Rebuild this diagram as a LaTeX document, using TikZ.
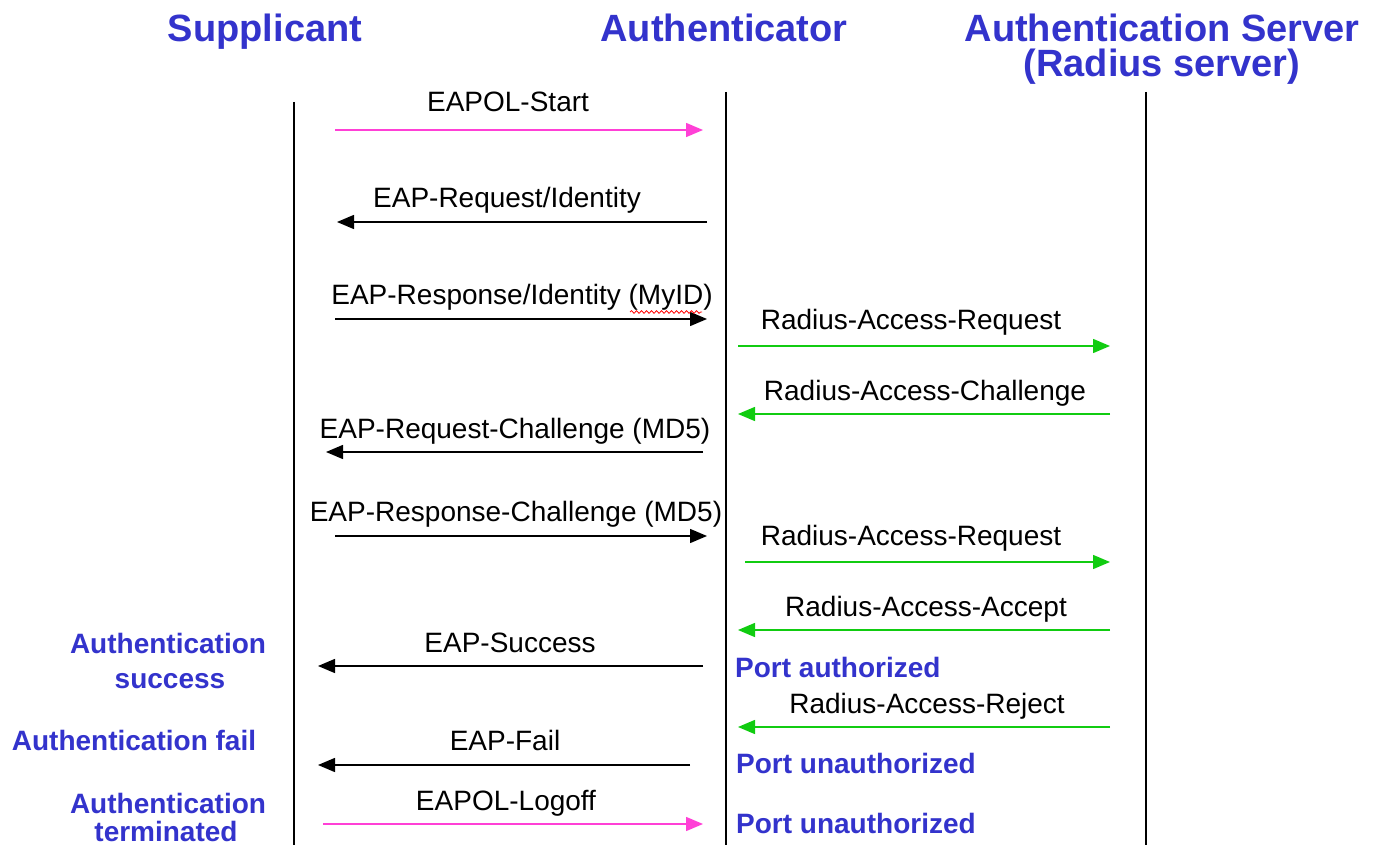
\documentclass[tikz,border=0pt]{standalone}
\usepackage{fontspec}
\setmainfont{Liberation Sans}
\usetikzlibrary{arrows.meta,decorations.pathmorphing}
\definecolor{hdrblue}{RGB}{51,51,204}
\definecolor{msgpink}{RGB}{255,64,214}
\definecolor{msggreen}{RGB}{17,204,17}
\tikzset{
  lifeline/.style={line width=1.4pt, black},
  msg/.style={line width=1.5pt, -{Triangle[length=17pt,width=14pt]}},
  blackmsg/.style={msg, black},
  pinkmsg/.style={msg, msgpink},
  greenmsg/.style={msg, msggreen},
  hdr/.style={anchor=base, text=hdrblue, font=\fontsize{38}{35}\selectfont\bfseries, inner sep=0pt},
  lbl/.style={anchor=base, font=\fontsize{28}{30}\selectfont, inner sep=0pt},
  state/.style={anchor=base, text=hdrblue, font=\fontsize{28}{30}\selectfont\bfseries, inner sep=0pt},
  statew/.style={state, anchor=base west},
}
\begin{document}
\begin{tikzpicture}[x=1pt,y=-1pt]
\useasboundingbox (0,0) rectangle (1390,845);
% headers
\node[hdr] (hsup) at (265,42) {Supplicant};
\node[hdr] (haut) at (724,42) {Authenticator};
\node[hdr, align=center] (hsrv) at (1162,77) {Authentication Server\\(Radius server)};
% lifelines
\coordinate (supT) at (294,102); \coordinate (supB) at (294,845);
\coordinate (autT) at (726,92);  \coordinate (autB) at (726,845);
\coordinate (srvT) at (1146,92); \coordinate (srvB) at (1146,845);
\draw[lifeline] (supT) -- (supB);
\draw[lifeline] (autT) -- (autB);
\draw[lifeline] (srvT) -- (srvB);
% message endpoints
\coordinate (m1a) at (335,130);  \coordinate (m1b) at (703,130);
\coordinate (m2a) at (707,222);  \coordinate (m2b) at (337,222);
\coordinate (m3a) at (335,319);  \coordinate (m3b) at (707,319);
\coordinate (m4a) at (738,346);  \coordinate (m4b) at (1110,346);
\coordinate (m5a) at (1110,414); \coordinate (m5b) at (738,414);
\coordinate (m6a) at (703,452);  \coordinate (m6b) at (326,452);
\coordinate (m7a) at (335,536);  \coordinate (m7b) at (707,536);
\coordinate (m8a) at (745,562);  \coordinate (m8b) at (1110,562);
\coordinate (m9a) at (1110,630); \coordinate (m9b) at (738,630);
\coordinate (m10a) at (703,666); \coordinate (m10b) at (318,666);
\coordinate (m11a) at (1110,727);\coordinate (m11b) at (738,727);
\coordinate (m12a) at (690,765); \coordinate (m12b) at (318,765);
\coordinate (m13a) at (323,824); \coordinate (m13b) at (703,824);
\draw[pinkmsg] (m1a) -- (m1b);
\draw[blackmsg] (m2a) -- (m2b);
\draw[blackmsg] (m3a) -- (m3b);
\draw[greenmsg] (m4a) -- (m4b);
\draw[greenmsg] (m5a) -- (m5b);
\draw[blackmsg] (m6a) -- (m6b);
\draw[blackmsg] (m7a) -- (m7b);
\draw[greenmsg] (m8a) -- (m8b);
\draw[greenmsg] (m9a) -- (m9b);
\draw[blackmsg] (m10a) -- (m10b);
\draw[greenmsg] (m11a) -- (m11b);
\draw[blackmsg] (m12a) -- (m12b);
\draw[pinkmsg] (m13a) -- (m13b);
% message labels
\node[lbl] (l1) at (508,112) {EAPOL-Start};
\node[lbl] (l2) at (507,208) {EAP-Request/Identity};
\node[lbl] (l3) at (522,305) {EAP-Response/Identity (MyID)};
\node[lbl] (l4) at (911,329) {Radius-Access-Request};
\node[lbl] (l5) at (925,400) {Radius-Access-Challenge};
\node[lbl] (l6) at (515,438) {EAP-Request-Challenge (MD5)};
\node[lbl] (l7) at (516,521) {EAP-Response-Challenge (MD5)};
\node[lbl] (l8) at (911,545) {Radius-Access-Request};
\node[lbl] (l9) at (926,616) {Radius-Access-Accept};
\node[lbl] (l10) at (510,652) {EAP-Success};
\node[lbl] (l11) at (927,713) {Radius-Access-Reject};
\node[lbl] (l12) at (505,750) {EAP-Fail};
\node[lbl] (l13) at (506,810) {EAPOL-Logoff};
% spell-check squiggle under MyID
\coordinate (sqa) at (630,312); \coordinate (sqb) at (702,312);
\draw[red, line width=0.8pt, decorate, decoration={snake, segment length=5pt, amplitude=1.3pt}] (sqa) -- (sqb);
% state labels
\node[state] (s1) at (168,653) {Authentication};
\node[state] (s2) at (170,688) {success};
\node[state] (s3) at (134,750) {Authentication fail};
\node[state] (s4) at (168,813) {Authentication};
\node[state] (s5) at (166,841) {terminated};
\node[statew] (p1) at (735,677) {Port authorized};
\node[statew] (p2) at (736,773) {Port unauthorized};
\node[statew] (p3) at (736,833) {Port unauthorized};
\end{tikzpicture}
\end{document}
